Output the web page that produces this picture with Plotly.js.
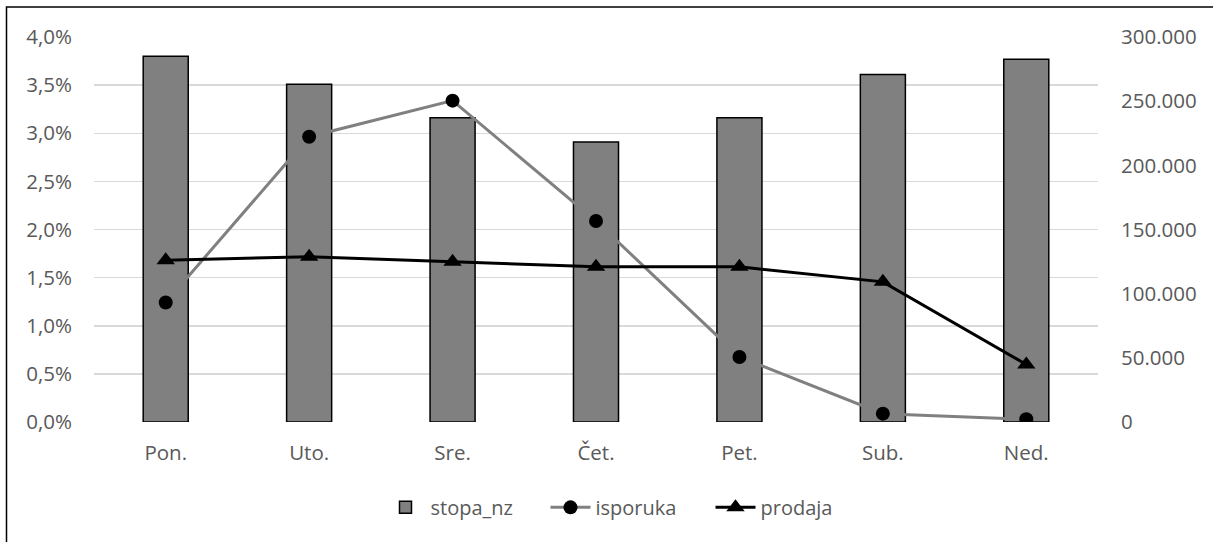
<!DOCTYPE html>
<html>
<head>
<meta charset="utf-8">
<script src="https://cdn.plot.ly/plotly-3.0.1.min.js"></script>
<style>
  html, body { margin: 0; padding: 0; background: #ffffff; }
  #chart { width: 1213px; height: 542px; }
</style>
</head>
<body>
<div id="chart"></div>
<script>
// Days of the week
const days = ['Pon.', 'Uto.', 'Sre.', 'Čet.', 'Pet.', 'Sub.', 'Ned.'];

// Rate (left axis, share)
const stopaNz = [0.0380, 0.0351, 0.0316, 0.0291, 0.0316, 0.0361, 0.0377];

// Deliveries (right axis)
const isporuka = [93100, 222300, 250400, 156600, 50700, 6500, 2100];

// Sales (right axis)
const prodaja = [126100, 128700, 124800, 120900, 120900, 109200, 44800];

const leftTicks = [0, 0.005, 0.01, 0.015, 0.02, 0.025, 0.03, 0.035, 0.04];
const rightTicks = [0, 50000, 100000, 150000, 200000, 250000, 300000];

const W = 1213, H = 542;
const plotL = 94, plotR = 1098, plotT = 37, plotB = 421.7;
const pw = plotR - plotL, ph = plotB - plotT;
const px = x => (x - plotL) / pw;
const py = y => (plotB - y) / ph;

const fontFam = '"Open Sans", "Liberation Sans", sans-serif';
const tickFont = { family: fontFam, size: 20.5, color: '#595959' };

const traces = [
  {
    type: 'bar',
    name: 'stopa_nz',
    x: days,
    y: stopaNz,
    width: 0.314,
    marker: { color: '#808080', line: { color: '#000000', width: 1.5 } },
    yaxis: 'y',
    hoverinfo: 'skip'
  },
  {
    type: 'scatter',
    mode: 'lines+markers',
    name: 'isporuka',
    x: days,
    y: isporuka,
    yaxis: 'y2',
    line: { color: '#808080', width: 3 },
    marker: { symbol: 'circle', size: 14, color: '#000000' },
    hoverinfo: 'skip'
  },
  {
    type: 'scatter',
    mode: 'lines+markers',
    name: 'prodaja',
    x: days,
    y: prodaja,
    yaxis: 'y2',
    line: { color: '#000000', width: 3 },
    marker: { symbol: 'triangle-up', size: 16, color: '#000000' },
    hoverinfo: 'skip'
  }
];

const layout = {
  width: W,
  height: H,
  margin: { l: plotL, r: W - plotR, t: plotT, b: H - plotB, pad: 0 },
  paper_bgcolor: '#ffffff',
  plot_bgcolor: '#ffffff',
  separators: ',.',
  showlegend: true,
  legend: {
    orientation: 'h',
    x: px(628),
    xanchor: 'center',
    y: py(507),
    yanchor: 'middle',
    font: { family: fontFam, size: 20, color: '#595959' },
    itemwidth: 40,
    entrywidth: 110,
    entrywidthmode: 'pixels',
    tracegroupgap: 0
  },
  xaxis: {
    type: 'category',
    showgrid: false,
    showline: false,
    zeroline: false,
    ticks: '',
    tickfont: tickFont,
    ticklabelstandoff: 16,
    fixedrange: true
  },
  yaxis: {
    range: [0, 0.04],
    tickvals: leftTicks,
    tickformat: '.1%',
    showgrid: true,
    gridcolor: '#d9d9d9',
    gridwidth: 1.5,
    zeroline: false,
    showline: false,
    ticks: '',
    tickfont: tickFont,
    ticklabelstandoff: 21,
    fixedrange: true
  },
  yaxis2: {
    overlaying: 'y',
    side: 'right',
    range: [0, 300000],
    tickvals: rightTicks,
    tickformat: ',d',
    showgrid: false,
    zeroline: false,
    showline: false,
    ticks: '',
    tickfont: tickFont,
    ticklabelstandoff: 22,
    fixedrange: true
  },
  shapes: [
    {
      type: 'rect',
      xref: 'paper',
      yref: 'paper',
      x0: px(6.5),
      x1: px(W + 20),
      y0: py(H + 20),
      y1: py(7),
      line: { color: '#000000', width: 1.5 },
      fillcolor: 'rgba(0,0,0,0)',
      layer: 'above'
    }
  ]
};

Plotly.newPlot('chart', traces, layout, { displayModeBar: false, staticPlot: true });
</script>
</body>
</html>
